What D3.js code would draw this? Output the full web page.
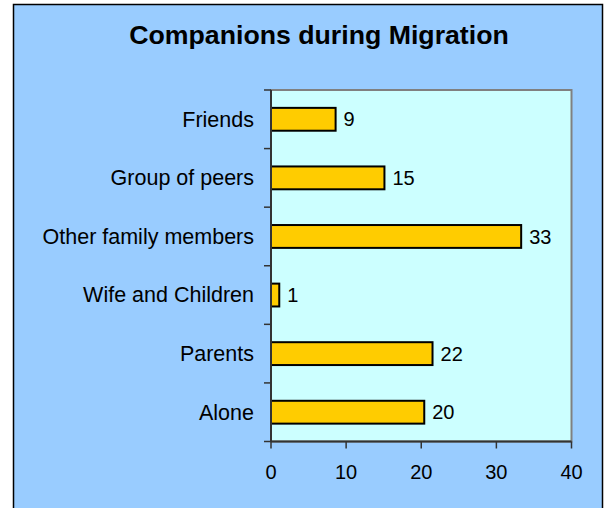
<!DOCTYPE html>
<html>
<head>
<meta charset="utf-8">
<script src="https://cdn.jsdelivr.net/npm/d3@7"></script>
<style>
  html, body { margin: 0; padding: 0; background: #fff; }
  svg { display: block; }
  text { font-family: Arial, "Liberation Sans", sans-serif; fill: #000; }
</style>
</head>
<body>
<svg id="chart" width="607" height="508"></svg>
<script>
const title = "Companions during Migration";
const categories = ["Friends", "Group of peers", "Other family members", "Wife and Children", "Parents", "Alone"];
const values = [8.6, 15.1, 33.3, 1.1, 21.5, 20.4];
const xTicks = [0, 10, 20, 30, 40];

const svg = d3.select("#chart");

// chart area
svg.append("rect")
  .attr("x", 13.5).attr("y", 4.5)
  .attr("width", 589).attr("height", 520)
  .attr("fill", "#99CCFF").attr("stroke", "#000").attr("stroke-width", 1.5);

const plot = { left: 271, top: 90, right: 571.5, bottom: 441.5 };

const x = d3.scaleLinear().domain([0, 40]).range([plot.left, plot.right]);
const y = d3.scaleBand().domain(categories).range([plot.top, plot.bottom]).paddingInner(0.61).paddingOuter(0.305);

// plot area background
svg.append("rect")
  .attr("x", plot.left).attr("y", plot.top)
  .attr("width", plot.right - plot.left).attr("height", plot.bottom - plot.top)
  .attr("fill", "#CCFFFF").attr("stroke", "#808080").attr("stroke-width", 2);

// title
svg.append("text")
  .attr("x", 319).attr("y", 44)
  .attr("text-anchor", "middle")
  .style("font-size", "26.7px").style("font-weight", "bold")
  .text(title);

// bars
svg.selectAll("rect.bar").data(categories).join("rect")
  .attr("class", "bar")
  .attr("x", x(0))
  .attr("y", c => y(c))
  .attr("width", (c, i) => x(values[i]) - x(0))
  .attr("height", y.bandwidth())
  .attr("fill", "#FFCC00").attr("stroke", "#000").attr("stroke-width", 2);

// data labels
svg.selectAll("text.val").data(categories).join("text")
  .attr("class", "val")
  .attr("x", (c, i) => x(values[i]) + 8)
  .attr("y", c => y(c) + y.bandwidth() / 2)
  .attr("dy", "0.36em")
  .style("font-size", "20px")
  .text((c, i) => d3.format(".0f")(values[i]));

// y axis
const yBoundaries = d3.range(categories.length + 1).map(i => plot.top + i * (plot.bottom - plot.top) / categories.length);
const yAxisG = svg.append("g");
yAxisG.append("line")
  .attr("x1", plot.left).attr("x2", plot.left)
  .attr("y1", plot.top).attr("y2", plot.bottom)
  .attr("stroke", "#333").attr("stroke-width", 2);
yAxisG.selectAll("line.tk").data(yBoundaries).join("line")
  .attr("class", "tk")
  .attr("x1", plot.left - 7).attr("x2", plot.left)
  .attr("y1", d => d).attr("y2", d => d)
  .attr("stroke", "#333").attr("stroke-width", 1.5);
yAxisG.selectAll("text").data(categories).join("text")
  .attr("x", 254)
  .attr("y", c => y(c) + y.bandwidth() / 2)
  .attr("dy", "0.34em")
  .attr("text-anchor", "end")
  .style("font-size", "21.5px")
  .text(c => c);

// x axis
const xAxisG = svg.append("g");
xAxisG.append("line")
  .attr("x1", plot.left).attr("x2", plot.right)
  .attr("y1", plot.bottom).attr("y2", plot.bottom)
  .attr("stroke", "#333").attr("stroke-width", 2);
xAxisG.selectAll("line.tk").data(xTicks).join("line")
  .attr("class", "tk")
  .attr("x1", d => x(d)).attr("x2", d => x(d))
  .attr("y1", plot.bottom).attr("y2", plot.bottom + 7)
  .attr("stroke", "#333").attr("stroke-width", 1.5);
xAxisG.selectAll("text").data(xTicks).join("text")
  .attr("x", d => x(d))
  .attr("y", 479)
  .attr("text-anchor", "middle")
  .style("font-size", "20px")
  .text(d => d);
</script>
</body>
</html>
